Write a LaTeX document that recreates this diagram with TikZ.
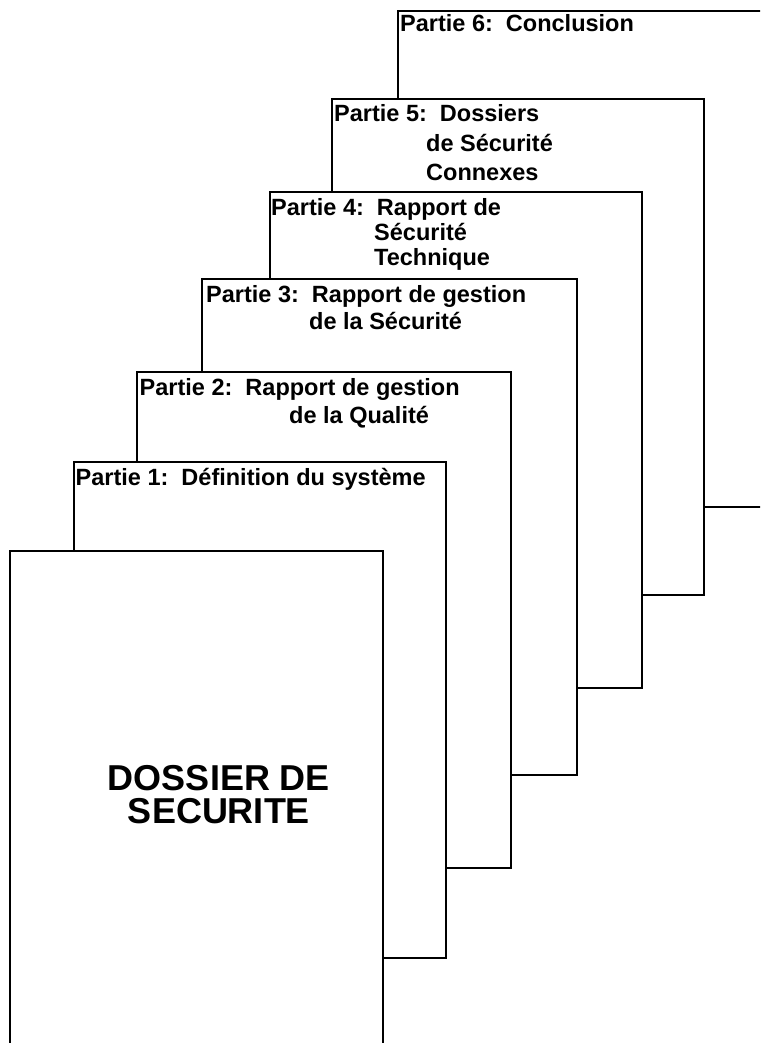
\documentclass[tikz,border=0pt]{standalone}
\usepackage{fontspec}
\setmainfont{Liberation Sans}
\begin{document}
\begin{tikzpicture}[x=1pt,y=-1pt,
  sheet/.style={draw=black, fill=white, line width=2pt, inner sep=0pt,
    outer sep=0pt, anchor=north west, minimum height=496pt},
  lbl/.style={anchor=base west, inner sep=0pt,
    font=\fontsize{23.5}{28}\selectfont\bfseries},
  ttl/.style={anchor=base, inner sep=0pt,
    font=\fontsize{36}{33}\selectfont\bfseries}]
\useasboundingbox (0,0) rectangle (760,1043);
\clip (0,0) rectangle (760,1043);

% stacked sheets, from the back to the front
\node[sheet, minimum width=373pt] (p6) at (398,11) {};
\node[sheet, minimum width=372pt] (p5) at (332,99) {};
\node[sheet, minimum width=372pt] (p4) at (270,192) {};
\node[sheet, minimum width=375pt] (p3) at (202,279) {};
\node[sheet, minimum width=374pt] (p2) at (137,372) {};
\node[sheet, minimum width=372pt] (p1) at (74,462) {};
\node[sheet, minimum width=373pt, minimum height=540pt] (cover) at (10,551) {};

% sheet headings
\node[lbl] (t6) at (400,32) {Partie 6:\ \ Conclusion};
\node[lbl] (t5a) at (334,122) {Partie 5:\ \ Dossiers};
\node[lbl] (t5b) at (426,152) {de Sécurité};
\node[lbl] (t5c) at (426,180) {Connexes};
\node[lbl] (t4a) at (271,215) {Partie 4:\ \ Rapport de};
\node[lbl] (t4b) at (374,240) {Sécurité};
\node[lbl] (t4c) at (374,265) {Technique};
\node[lbl] (t3a) at (206,302) {Partie 3:\ \ Rapport de gestion};
\node[lbl] (t3b) at (309,329) {de la Sécurité};
\node[lbl] (t2a) at (139.5,395) {Partie 2:\ \ Rapport de gestion};
\node[lbl] (t2b) at (289,423) {de la Qualité};
\node[lbl] (t1) at (75.5,485) {Partie 1:\ \ Définition du système};

% cover title
\node[ttl] (ttl1) at (219,790) {DOSSIER DE};
\node[ttl] (ttl2) at (219,823) {SECURITE};
\end{tikzpicture}
\end{document}
